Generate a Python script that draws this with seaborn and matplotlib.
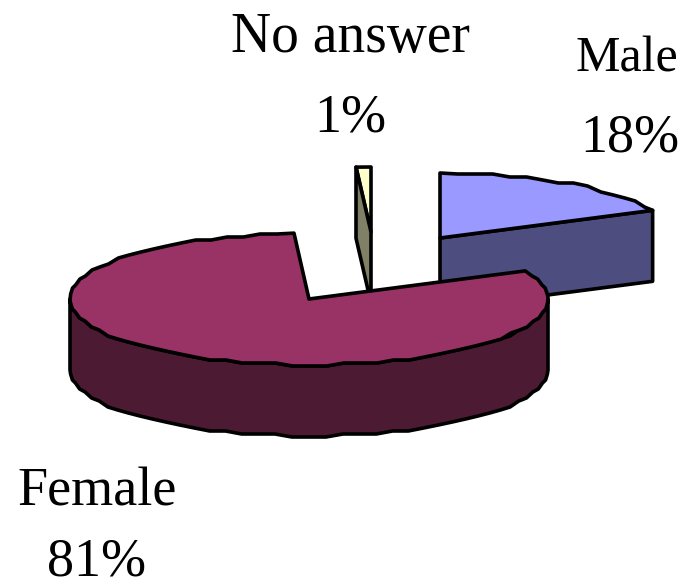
import matplotlib
matplotlib.use("Agg")
import matplotlib.pyplot as plt
import numpy as np
import seaborn as sns
from matplotlib.patches import Polygon

labels = ["Male", "Female", "No answer"]
shares = [18, 81, 1]
top_colors = ["#9999FF", "#993366", "#FFFFCC"]
side_colors = ["#4D4D80", "#4D1A33", "#808066"]

# layout in pixels: slice tip, radii, and where the two text lines sit
centers = {"Male": (440, 238), "Female": (309, 299), "No answer": (371, 232)}
radii = {"Male": (235, 65), "Female": (239, 66), "No answer": (239, 65)}
depth = 71
text_pos = {"Male": (627, 72, 152), "Female": (97, 505, 575), "No answer": (350, 52, 132)}
name_size = {"Male": 36, "Female": 39, "No answer": 40}
LINE = "black"
LW = 2.6


def arc(name, a0, a1):
    """Coarse ellipse arc, snapped to a grid so the edge steps like the old renderer."""
    cx, cy = centers[name]
    rx, ry = radii[name]
    n = max(2, int(abs(a1 - a0) / 4))
    t = np.radians(np.linspace(a0, a1, n))
    x = cx + rx * np.cos(t)
    y = cy - ry * np.sin(t)
    inner = np.round(y[1:-1] / 3) * 3
    y = np.concatenate([y[:1], inner, y[-1:]])
    return np.column_stack([x, y])


def add_poly(ax, pts, color, z):
    ax.add_patch(Polygon(pts, closed=True, facecolor=color, edgecolor=LINE,
                         linewidth=LW, joinstyle="round", zorder=z))


sns.set_theme(style="white")
plt.rcParams["font.family"] = ["Liberation Serif", "DejaVu Serif"]

fig, ax = plt.subplots(figsize=(6.92, 5.88), dpi=100)
ax.set_position([0, 0, 1, 1])
ax.set_xlim(0, 692)
ax.set_ylim(588, 0)
ax.axis("off")

drop = np.array([0, depth])

# slices run clockwise from 12 o'clock
ends = 90 - np.cumsum(shares) * 3.6
starts = np.concatenate([[90], ends[:-1]])
angles = dict(zip(labels, zip(starts, ends)))

# male: top and the cut face towards the viewer
a0, a1 = angles["Male"]
tip = np.array(centers["Male"], dtype=float)
top = arc("Male", a0, a1)
add_poly(ax, np.vstack([tip, tip + drop, top[-1] + drop, top[-1]]), side_colors[0], 1)
add_poly(ax, np.vstack([tip, top]), top_colors[0], 2)

# no answer: sliver and the cut face on its left
a0, a1 = angles["No answer"]
tip = np.array(centers["No answer"], dtype=float)
top = arc("No answer", a0, a1)
add_poly(ax, np.vstack([tip, top]), top_colors[2], 3)
add_poly(ax, np.vstack([tip, top[0], top[0] + drop, tip + drop]), side_colors[2], 4)

# female: rim on the lower half, then the top over everything
a0, a1 = angles["Female"]
tip = np.array(centers["Female"], dtype=float)
rim = arc("Female", -180, 0)
add_poly(ax, np.vstack([rim, (rim + drop)[::-1]]), side_colors[1], 5)
add_poly(ax, np.vstack([tip, arc("Female", a0, a1)]), top_colors[1], 6)

for name, share in zip(labels, shares):
    x, y1, y2 = text_pos[name]
    ax.text(x, y1, name, ha="center", va="baseline", fontsize=name_size[name], color="black", zorder=7)
    ax.text(x + (3 if name == "Male" else 0), y2, f"{share}%", ha="center", va="baseline",
            fontsize=39, color="black", zorder=7)

fig.savefig("out.png", dpi=100)
plt.close(fig)
